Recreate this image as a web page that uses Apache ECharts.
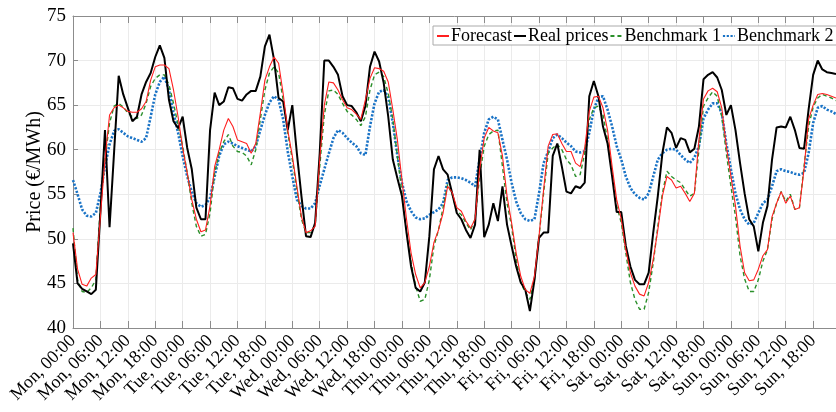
<!DOCTYPE html>
<html>
<head>
<meta charset="utf-8">
<script src="https://cdn.jsdelivr.net/npm/echarts@6/dist/echarts.min.js"></script>
<style>html,body{margin:0;padding:0;background:#fff;}#c{width:836px;height:412px;}</style>
</head>
<body>
<div id="c"></div>
<script>
const days = ['Mon','Tue','Wed','Thu','Fri','Sat','Sun'];
const hoursPerDay = 24;
const categories = [];
days.forEach(d => { for (let h = 0; h < hoursPerDay; h++) categories.push(d + ', ' + String(h).padStart(2,'0') + ':00'); });

const seriesNames = ['Forecast','Real prices','Benchmark 1','Benchmark 2'];

const forecast = [50.7,46.6,44.9,44.7,45.6,46.0,52.5,58.9,63.9,64.7,65.0,64.7,64.3,64.2,64.2,64.6,65.4,67.8,69.3,69.5,69.5,69.1,66.7,63.7,
60.2,57.4,54.4,52.2,50.8,51.0,53.7,58.1,60.0,62.2,63.5,62.6,61.1,60.9,60.7,59.6,60.7,64.1,67.8,69.3,70.4,69.7,66.3,62.2,
59.3,55.9,52.5,50.7,50.9,51.4,58.9,65.0,67.6,67.5,66.7,65.6,64.7,64.5,64.0,63.4,65.6,68.0,69.2,69.1,68.8,67.6,64.5,61.1,
56.6,52.2,48.4,46.0,44.5,45.1,46.9,49.6,51.0,52.9,55.9,55.2,53.5,53.1,52.0,51.2,52.2,57.8,61.3,62.5,62.1,61.9,59.3,54.8,
51.8,48.4,45.8,44.3,43.9,45.8,50.3,55.5,60.4,61.7,61.8,60.7,59.8,59.8,58.5,58.1,60.2,64.3,65.9,66.0,64.7,62.2,58.1,54.4,
52.2,48.8,46.2,44.7,43.8,43.6,45.1,47.7,51.0,54.8,57.0,56.6,55.7,55.9,55.1,54.2,55.1,61.1,65.7,66.6,66.9,66.5,64.7,60.4,
57.0,53.7,49.2,46.2,45.3,45.4,46.6,48.1,48.8,52.5,54.0,55.3,54.0,54.8,53.3,53.5,57.8,63.4,65.0,66.2,66.3,66.2,66.0,65.8];

const realPrices = [49.5,45.0,44.4,44.1,43.8,44.3,53.0,62.2,51.3,59.8,68.3,66.2,64.7,63.2,63.7,66.2,67.6,68.6,70.4,71.7,70.3,65.6,63.2,62.4,
63.7,60.2,57.8,53.5,52.2,52.2,62.2,66.4,65.0,65.4,67.0,66.9,65.7,65.5,66.2,66.6,66.6,68.2,71.6,72.9,70.1,65.8,65.4,62.2,
65.0,59.6,54.8,50.3,50.2,51.8,59.6,70.0,70.0,69.3,68.4,66.0,65.0,64.9,64.2,63.2,64.9,69.3,71.0,69.9,67.5,63.7,58.9,56.8,
54.8,50.7,46.9,44.5,44.1,45.1,50.3,57.8,59.3,57.8,57.2,55.1,52.9,52.2,51.0,50.1,51.6,60.0,50.2,51.6,54.0,52.0,55.9,51.6,
49.2,46.9,45.1,44.3,41.9,45.4,50.1,50.7,50.7,59.3,60.7,58.1,55.3,55.1,55.9,55.7,56.3,66.0,67.7,66.0,62.6,60.7,57.0,53.0,
53.0,49.2,46.9,45.4,44.9,44.9,46.2,50.7,54.8,59.6,62.5,61.9,60.2,61.3,61.1,59.7,60.1,62.6,67.9,68.4,68.7,68.1,66.7,63.9,
65.0,62.2,58.5,55.1,52.2,51.4,48.6,51.8,53.7,58.9,62.5,62.6,62.5,63.7,62.2,60.2,60.1,64.5,68.4,70.0,69.0,68.7,68.6,68.5];

const benchmark1 = [51.2,45.4,44.1,44.0,44.5,45.4,53.7,58.9,63.0,64.9,65.2,64.8,64.1,63.7,63.5,63.9,65.2,67.1,68.0,68.4,68.4,67.3,65.2,62.8,
60.4,57.4,54.0,51.4,50.3,50.5,52.9,57.4,59.6,60.9,61.7,60.4,59.8,59.7,59.3,58.3,60.0,63.4,66.7,68.6,69.3,68.6,65.6,61.9,
58.9,55.5,52.2,50.7,50.7,51.6,58.1,63.9,66.6,66.7,66.2,65.2,64.3,63.9,63.4,62.7,63.7,66.7,68.4,68.7,68.2,66.3,63.4,59.3,
55.1,50.7,47.3,44.7,43.0,43.2,45.4,49.2,51.0,53.5,56.1,55.0,53.1,52.7,51.8,51.0,52.2,57.0,60.4,61.7,62.1,62.2,58.1,54.0,
51.4,47.7,45.1,44.0,43.2,45.4,50.3,55.1,59.6,60.2,60.6,60.0,58.9,58.3,57.0,57.2,59.6,63.4,64.7,64.9,63.9,61.1,57.4,53.7,
51.8,48.4,45.1,43.2,42.1,42.1,44.0,47.3,51.4,55.1,57.6,57.0,56.6,56.3,55.5,54.8,55.1,60.0,64.9,65.8,66.5,66.0,63.7,59.6,
55.9,52.5,48.1,45.5,44.1,44.1,45.4,47.5,48.8,52.2,54.0,55.3,54.2,55.0,53.3,53.5,58.1,62.6,64.8,65.8,66.2,66.0,65.8,65.5];

const benchmark2 = [56.6,55.0,53.3,52.6,52.5,52.9,55.1,58.1,60.6,62.1,62.3,61.9,61.5,61.3,61.1,60.9,61.3,63.7,66.2,67.6,68.2,66.7,64.1,61.9,
59.3,57.0,55.3,54.0,53.6,53.8,54.6,57.0,59.3,60.6,60.9,60.7,60.4,60.2,60.0,59.8,60.4,62.2,63.9,65.3,66.0,65.6,63.4,59.8,
57.0,54.4,53.7,53.4,53.4,54.0,56.0,57.8,59.6,61.3,62.2,61.9,61.3,60.8,60.4,59.6,59.4,62.6,65.2,66.5,66.7,65.9,63.0,59.3,
56.3,54.2,53.1,52.4,52.2,52.3,52.7,53.0,53.3,54.0,56.6,56.9,56.9,56.8,56.6,56.3,55.9,58.9,61.9,63.4,63.7,63.4,61.1,58.9,
56.3,54.2,52.9,52.2,52.0,52.2,55.1,58.5,59.8,61.3,61.7,61.3,60.8,60.4,59.8,59.7,59.8,61.9,64.5,65.9,66.0,64.5,62.6,60.4,
58.9,57.0,55.7,55.0,54.6,54.4,55.1,57.0,58.9,59.6,60.0,60.1,60.0,59.4,58.9,58.5,59.1,60.4,63.5,64.5,65.2,65.2,64.1,60.7,
57.8,55.1,53.3,52.2,51.6,51.8,52.9,54.0,54.4,55.9,57.6,57.8,57.6,57.5,57.3,57.2,57.4,59.6,63.0,64.7,64.9,64.5,64.3,64.0];

const yTicks = {min: 40, max: 75, interval: 5};
const yName = 'Price (€/MWh)';

const FONT = 'Liberation Serif';
const chart = echarts.init(document.getElementById('c'), null, {renderer: 'canvas'});
const axisGray = '#8c8c8c';
const gridGray = '#ebebeb';

chart.setOption({
  animation: false,
  backgroundColor: '#fff',
  textStyle: {fontFamily: FONT},
  grid: {left: 73, top: 16, bottom: 84, right: -8, containLabel: false},
  legend: {
    data: seriesNames,
    left: 433, top: 26, width: 440,
    orient: 'horizontal',
    itemWidth: 12, itemHeight: 10, itemGap: 1,
    padding: [1, 4, 0, 3],
    borderColor: '#aaa', borderWidth: 1,
    backgroundColor: '#fff',
    itemStyle: {opacity: 0},
    textStyle: {fontFamily: FONT, fontSize: 18, color: '#000', padding: [0, 0, 0, -3]}
  },
  xAxis: [{
    type: 'category', data: categories, boundaryGap: false, position: 'bottom',
    axisLine: {show: true, lineStyle: {color: axisGray, width: 1}},
    axisTick: {show: true, inside: true, interval: 5, length: 7, lineStyle: {color: axisGray}},
    axisLabel: {interval: 5, rotate: 45, fontFamily: FONT, fontSize: 18, color: '#000', margin: 10},
    splitLine: {show: true, interval: 5, lineStyle: {color: gridGray, width: 1}}
  }, {
    type: 'category', data: categories, boundaryGap: false, position: 'top',
    axisLine: {show: true, lineStyle: {color: axisGray, width: 1}},
    axisTick: {show: true, inside: true, interval: 5, length: 7, lineStyle: {color: axisGray}},
    axisLabel: {show: false},
    splitLine: {show: false}
  }],
  yAxis: {
    type: 'value', min: yTicks.min, max: yTicks.max, interval: yTicks.interval,
    name: yName, nameLocation: 'middle', nameGap: 28, nameRotate: 90, nameMoveOverlap: false,
    nameTextStyle: {fontFamily: FONT, fontSize: 20, color: '#000'},
    axisLine: {show: true, lineStyle: {color: axisGray, width: 1}},
    axisTick: {show: true, inside: true, length: 5, lineStyle: {color: axisGray}},
    axisLabel: {fontFamily: FONT, fontSize: 19, color: '#000', margin: 7},
    splitLine: {show: true, lineStyle: {color: gridGray, width: 1}}
  },
  series: [
    {name: 'Forecast', type: 'line', data: forecast, symbol: 'none', z: 4,
     lineStyle: {color: '#ff1f1f', width: 1.1}, itemStyle: {color: '#ff1f1f'}},
    {name: 'Real prices', type: 'line', data: realPrices, symbol: 'none', z: 3,
     lineStyle: {color: '#000000', width: 2}, itemStyle: {color: '#000000'}},
    {name: 'Benchmark 1', type: 'line', data: benchmark1, symbol: 'none', z: 2,
     lineStyle: {color: '#2a8f2a', width: 1.4, type: [4, 3]}, itemStyle: {color: '#2a8f2a'}},
    {name: 'Benchmark 2', type: 'line', data: benchmark2, symbol: 'none', z: 1,
     lineStyle: {color: '#1a73c6', width: 2.6, type: [2.2, 1.6]}, itemStyle: {color: '#1a73c6'}}
  ]
});
</script>
</body>
</html>
